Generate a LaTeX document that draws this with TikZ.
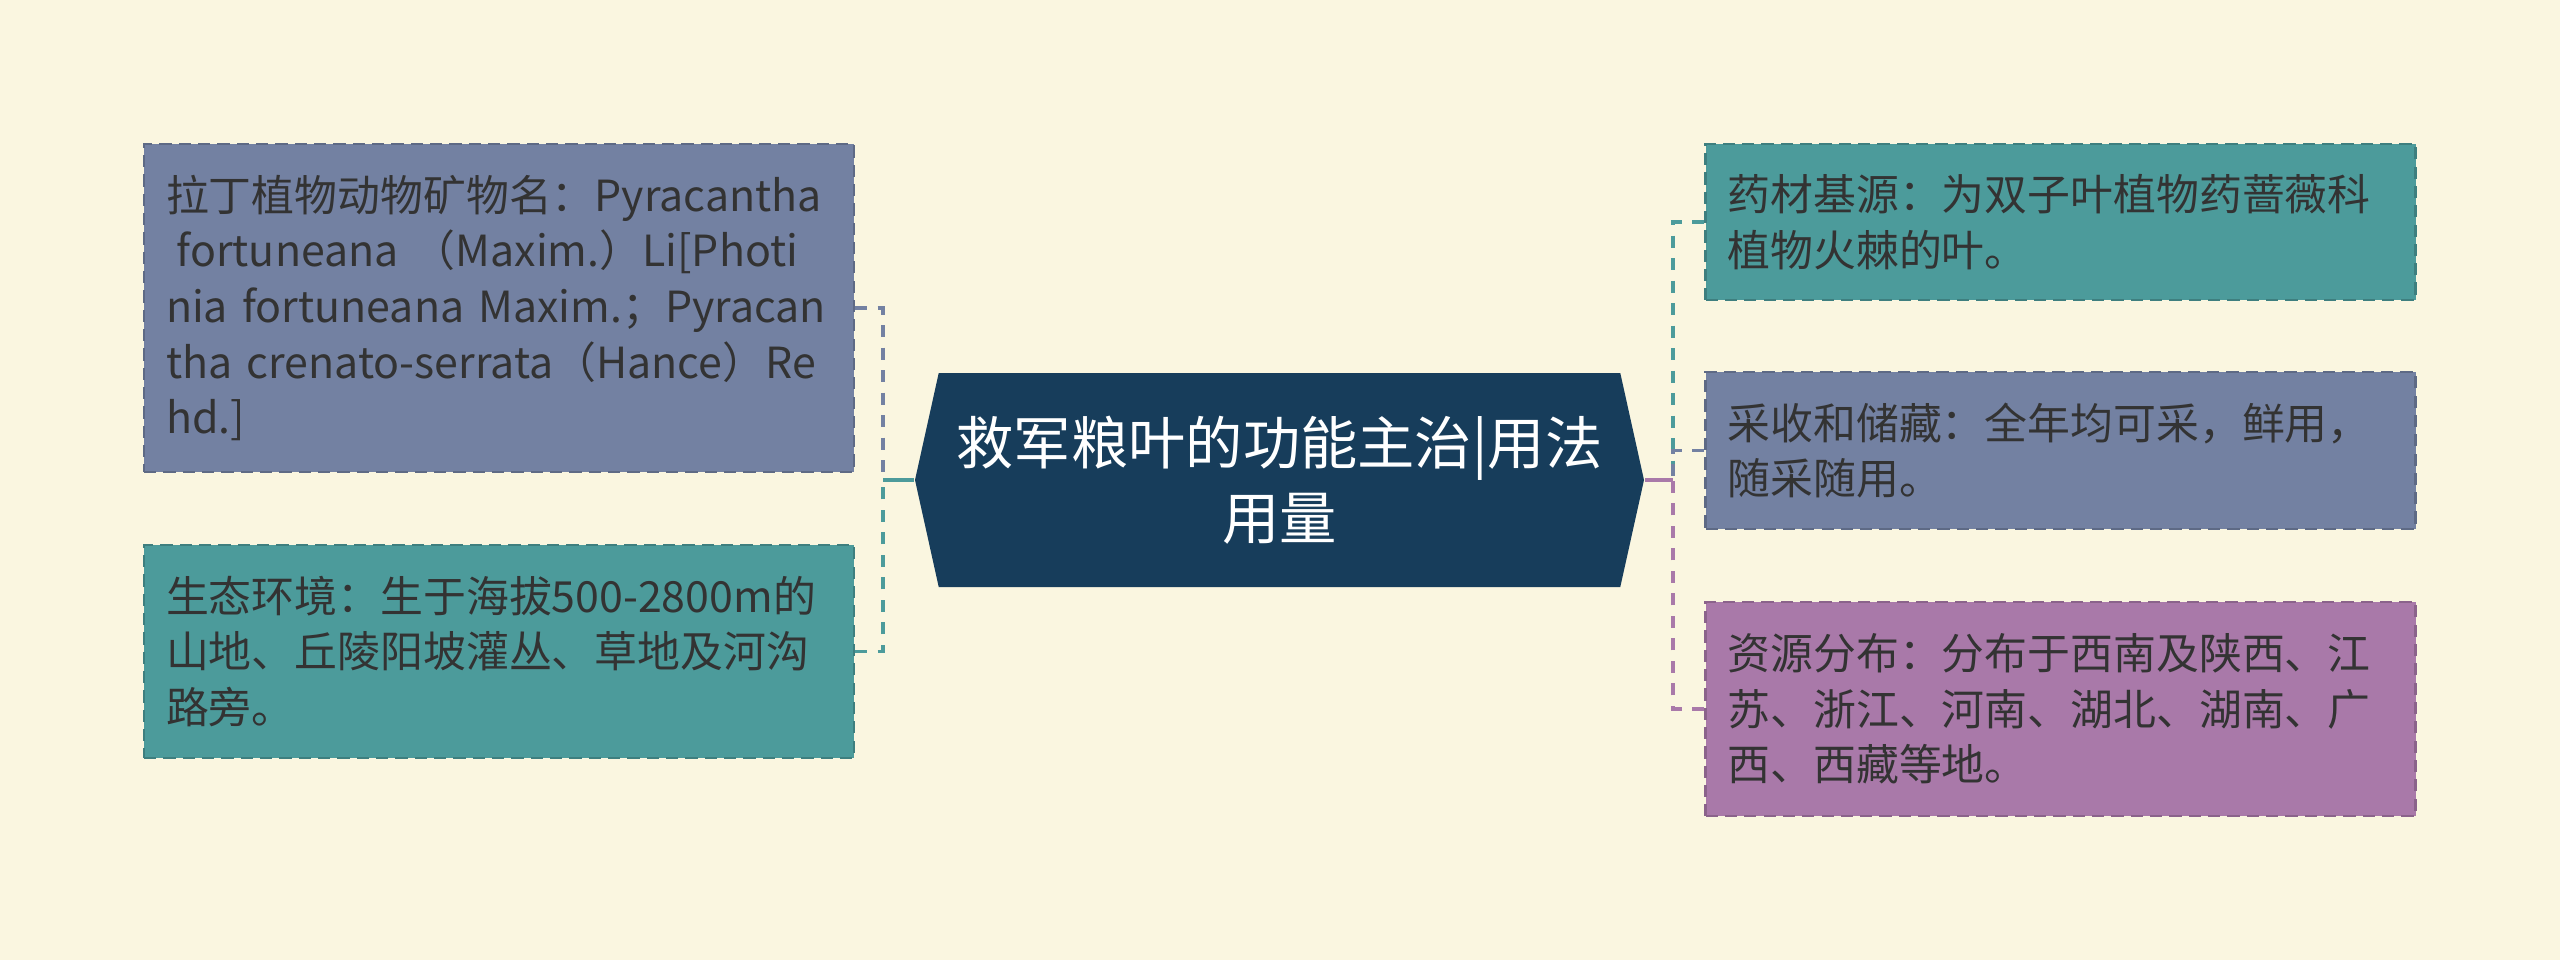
\documentclass[tikz,border=0pt]{standalone}
\usepackage{fontspec}
\setmainfont{Noto Sans CJK SC}
\usetikzlibrary{shapes.symbols}
\definecolor{paper}{HTML}{FAF6E0}
\definecolor{navy}{HTML}{173D5B}
\definecolor{slate}{HTML}{7381A2}
\definecolor{sea}{HTML}{4C9B9B}
\definecolor{plum}{HTML}{A979A9}
\definecolor{ink}{HTML}{333333}

\begin{document}
\begin{tikzpicture}[
     % define styles
     topic/.style={
         signal,
         signal to=west and east,
         signal pointer angle=155,
         fill=navy,
         text=white,
         align=center,
         minimum width=7.29cm,
         minimum height=2.14cm,
         font=\fontsize{16.3pt}{21.3pt}\selectfont
     },
     leaf/.style={
         rectangle,
         draw=#1!82!black,
         fill=#1,
         line width=0.7pt,
         dash pattern=on 3.5pt off 2pt,
         text=ink,
         text width=6.66cm,
         align=left,
         inner xsep=0.22cm,
         inner ysep=0pt,
         font=\fontsize{12.2pt}{15.8pt}\selectfont
     },
     link/.style={
         line width=1.1pt,
         dash pattern=on 0.12cm off 0.105cm
     },
     trunk/.style={
         line width=1.1pt
     }
]
% background and page size
\fill[paper] (0,0) rectangle (25.6,-9.6);
\useasboundingbox (0,0) rectangle (25.6,-9.6);

% central topic
\node[topic] (root) at (12.795,-4.80) {救军粮叶的功能主治|用法\\用量};

% left branches
\node[leaf=slate, minimum height=3.28cm] (latin) at (4.99,-3.08)
    {拉丁植物动物矿物名：Pyracantha\\
     \hspace*{0.25em}fortuneana\ （Maxim.）Li[Photi\\
     nia fortuneana Maxim.；Pyracan\\
     tha crenato-serrata（Hance）Re\\
     hd.]};
\node[leaf=sea, minimum height=2.13cm] (habitat) at (4.99,-6.515)
    {生态环境：生于海拔500-2800m的\\山地、丘陵阳坡灌丛、草地及河沟\\路旁。};

% right branches
\node[leaf=sea, minimum height=1.56cm] (origin) at (20.605,-2.22)
    {药材基源：为双子叶植物药蔷薇科\\植物火棘的叶。};
\node[leaf=slate, minimum height=1.57cm] (harvest) at (20.605,-4.505)
    {采收和储藏：全年均可采，鲜用，\\随采随用。};
\node[leaf=plum, minimum height=2.14cm] (range) at (20.605,-7.09)
    {资源分布：分布于西南及陕西、江\\苏、浙江、河南、湖北、湖南、广\\西、西藏等地。};

% junctions of the connectors
\coordinate (lj) at (8.83,-4.80);
\coordinate (rj) at (16.73,-4.80);

\draw[link, slate] (latin.east) -| (lj);
\draw[link, sea] (habitat.east) -| (lj);
\draw[trunk, sea] (lj) -- (root.west);
\draw[link, sea] (origin.west) -| (rj);
\draw[link, slate] (harvest.west) -| (rj);
\draw[link, plum] (range.west) -| (rj);
\draw[trunk, plum] (rj) -- (root.east);
\end{tikzpicture}
\end{document}
